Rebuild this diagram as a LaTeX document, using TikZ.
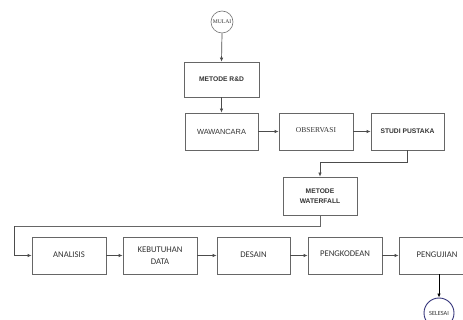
\documentclass[tikz,border=0pt]{standalone}
\usepackage{fontspec}
\setmainfont{Liberation Sans}
\newfontfamily\calfont{Carlito}
\newfontfamily\timesfont{Liberation Serif}
\usetikzlibrary{arrows.meta}
\begin{document}
\begin{tikzpicture}[x=1pt,y=-1pt,
  box/.style={draw=black!60, line width=0.7pt, fill=white, minimum height=37pt, inner sep=1pt, align=center, text=black!80, font=\fontsize{7.4}{9}\selectfont},
  bbox/.style={box, font=\bfseries\fontsize{6.7}{10}\selectfont},
  cbox/.style={box, font=\calfont\fontsize{8.7}{12}\selectfont},
  term/.style={circle, draw=black!55, line width=0.6pt, inner sep=0pt, align=center, text=black!80},
  conn/.style={draw=black!70, line width=0.7pt, -{Latex[length=4pt,width=3.5pt]}},
  line/.style={draw=black!60, line width=0.7pt}]
\useasboundingbox (0,0) rectangle (463,320);
\clip (0,0) rectangle (463,320);
\fill[white] (0,0) rectangle (463,320);

\node[term, minimum size=22pt, font=\timesfont\fontsize{5.6}{6}\selectfont] (mulai) at (222,22) {MULAI};
\node[bbox, minimum width=75pt, minimum height=35pt] (rd) at (221.5,79.5) {METODE R\&D};
\node[box, minimum width=73pt] (waw) at (221.5,131.5) {WAWANCARA};
\node[box, minimum width=74pt, font=\timesfont\fontsize{7.5}{9}\selectfont] (obs) at (316,131.5) {\raisebox{3pt}{OBSERVASI}};
\node[bbox, minimum width=73pt] (studi) at (407.5,131.5) {STUDI PUSTAKA};
\node[bbox, minimum width=74pt, minimum height=38pt] (wf) at (320,196) {METODE\\WATERFALL};

\node[cbox, minimum width=74pt] (ana) at (69,255.5) {\raisebox{1pt}{ANALISIS}};
\node[cbox, minimum width=74pt] (keb) at (160,255.5) {KEBUTUHAN\\DATA};
\node[cbox, minimum width=73pt] (des) at (253.5,255.5) {\raisebox{2pt}{DESAIN}};
\node[cbox, minimum width=74pt] (pengk) at (345,255.5) {\raisebox{3pt}{PENGKODEAN}};
\node[cbox, minimum width=76pt] (pengu) at (437,255.5) {\raisebox{2pt}{PENGUJIAN}};

\node[term, draw=blue!35!black!80, line width=0.9pt, minimum size=30pt, font=\calfont\fontsize{6.3}{7}\selectfont] (sel) at (439,313) {SELESAI};

\coordinate (c1) at (14,226.5);

\draw[conn] (mulai.south) -- (rd.north);
\draw[conn] (rd.south) -- (waw.north);
\draw[conn] (waw.east) -- (obs.west);
\draw[conn] (obs.east) -- (studi.west);
\draw[conn] (studi.south) -- ++(0,12) -| (wf.north);
\draw[line] (wf.south) |- (c1);
\draw[conn] (c1) |- (ana.west);
\draw[conn] (ana.east) -- (keb.west);
\draw[conn] (keb.east) -- (des.west);
\draw[conn] (des.east) -- (pengk.west);
\draw[conn] (pengk.east) -- (pengu.west);
\draw[conn, draw=black, line width=0.9pt] (sel.north |- pengu.south) -- (sel.north);
\end{tikzpicture}
\end{document}
